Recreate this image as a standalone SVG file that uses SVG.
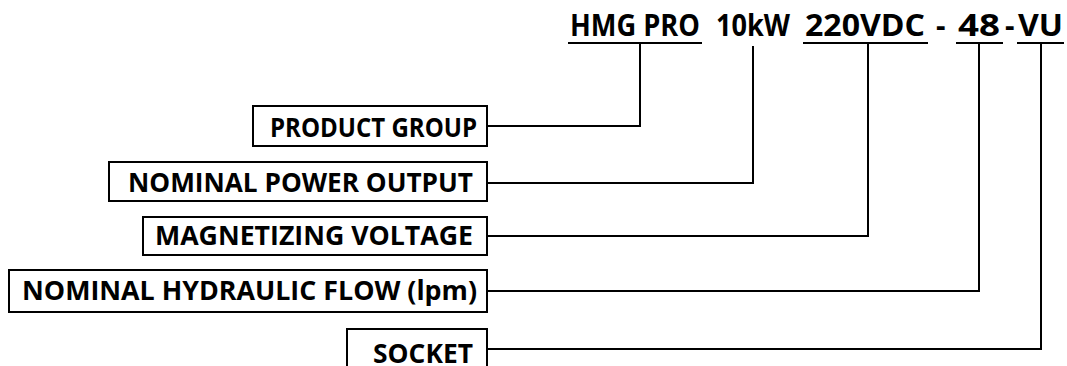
<svg xmlns="http://www.w3.org/2000/svg" width="1067" height="366" viewBox="0 0 1067 366">
<style>
.box{fill:#fff;stroke:#000;stroke-width:2}
.lbl{font-family:"Open Sans","Liberation Sans",Arial,sans-serif;font-weight:bold;font-size:26.5px;fill:#000}
.ttl{font-family:"Open Sans","Liberation Sans",Arial,sans-serif;font-weight:bold;font-size:29.5px;fill:#000}
.conn{fill:none;stroke:#000;stroke-width:2}
</style>
<rect width="1067" height="366" fill="#fff"/>
<g id="title">
<text class="ttl" x="570" y="36" textLength="130" lengthAdjust="spacingAndGlyphs">HMG PRO</text>
<text class="ttl" x="716" y="36" textLength="74" lengthAdjust="spacingAndGlyphs">10kW</text>
<text class="ttl" x="805" y="36" textLength="120" lengthAdjust="spacingAndGlyphs">220VDC</text>
<text class="ttl" x="936" y="36">-</text>
<text class="ttl" x="958" y="36" textLength="42" lengthAdjust="spacingAndGlyphs">48</text>
<text class="ttl" x="1005" y="36">-</text>
<text class="ttl" x="1018" y="36" textLength="45" lengthAdjust="spacingAndGlyphs">VU</text>
</g>
<g id="connectors">
<path class="conn" d="M568 43H702M803 43H928M956 43H1003M1017 43H1064"/>
<path class="conn" d="M487 126H640V43"/>
<path class="conn" d="M487 183H753V46"/>
<path class="conn" d="M487 236H868V43"/>
<path class="conn" d="M487 291H979V43"/>
<path class="conn" d="M487 349H1041V43"/>
</g>
<g id="product-group">
<rect class="box" x="253" y="106" width="234" height="40"/>
<text class="lbl" x="270" y="137" textLength="207" lengthAdjust="spacingAndGlyphs">PRODUCT GROUP</text>
</g>
<g id="nominal-power-output">
<rect class="box" x="109" y="162" width="378" height="39"/>
<text class="lbl" x="128" y="192" textLength="345" lengthAdjust="spacingAndGlyphs">NOMINAL POWER OUTPUT</text>
</g>
<g id="magnetizing-voltage">
<rect class="box" x="143" y="217" width="344" height="38"/>
<text class="lbl" x="155" y="245" textLength="318" lengthAdjust="spacingAndGlyphs">MAGNETIZING VOLTAGE</text>
</g>
<g id="nominal-hydraulic-flow">
<rect class="box" x="9" y="270" width="478" height="42"/>
<text class="lbl" x="22" y="300" textLength="455" lengthAdjust="spacingAndGlyphs">NOMINAL HYDRAULIC FLOW (lpm)</text>
</g>
<g id="socket">
<rect class="box" x="347" y="329" width="140" height="45"/>
<text class="lbl" x="373" y="363" textLength="100" lengthAdjust="spacingAndGlyphs">SOCKET</text>
</g>
</svg>
